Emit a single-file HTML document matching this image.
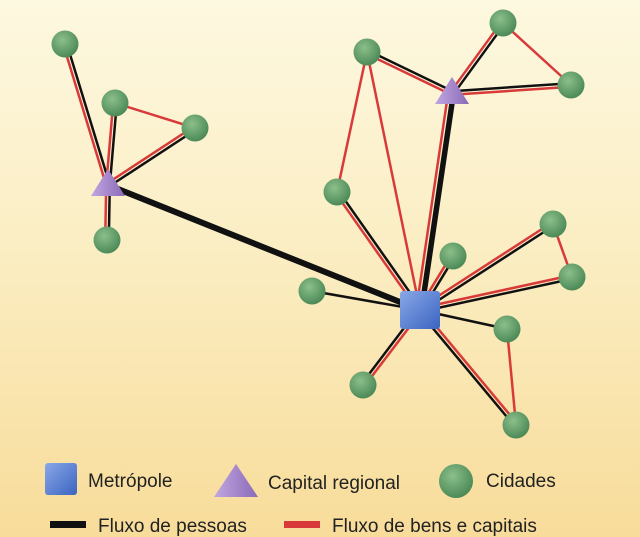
<!DOCTYPE html>
<html><head><meta charset="utf-8"><style>
html,body{margin:0;padding:0}
body{width:640px;height:537px;overflow:hidden;background:linear-gradient(180deg,#fdf8e0 0%,#fbeec4 45%,#f8dc9a 100%);font-family:"Liberation Sans",sans-serif}
svg{position:absolute;left:0;top:0}
</style></head><body>
<svg id="s" width="640" height="537" viewBox="0 0 640 537">
<defs>
<radialGradient id="g" cx="40%" cy="35%" r="65%"><stop offset="0" stop-color="#8cbf8a"/><stop offset="1" stop-color="#4c8a58"/></radialGradient>
<linearGradient id="b" x1="0" y1="0" x2="1" y2="1"><stop offset="0" stop-color="#8aa8e8"/><stop offset="1" stop-color="#3a64c0"/></linearGradient>
<linearGradient id="t" x1="0" y1="0" x2="1" y2="0"><stop offset="0" stop-color="#c2a6e0"/><stop offset="1" stop-color="#8a6ab8"/></linearGradient>
</defs>
<g id="lines"></g>
<g id="nodes"></g>
<g font-size="19" fill="#222">
<rect x="45" y="463" width="32" height="32" rx="3" fill="url(#b)"/>
<text x="88" y="487">Metrópole</text>
<polygon points="236,464 214,497 258,497" fill="url(#t)"/>
<text x="268" y="489">Capital regional</text>
<circle cx="456" cy="481" r="17" fill="url(#g)"/>
<text x="486" y="487">Cidades</text>
<rect x="50" y="521" width="36" height="7" fill="#111"/>
<text x="98" y="532">Fluxo de pessoas</text>
<rect x="284" y="521" width="36" height="7" fill="#d83a3a"/>
<text x="332" y="532">Fluxo de bens e capitais</text>
</g>
</svg>
<script>
var N={C1:[65,44],C2:[115,103],C3:[195,128],T1:[108,185],C4:[107,240],C5:[367,52],C6:[503,23],C7:[571,85],T2:[452,93],C8:[337,192],C9:[453,256],C10:[553,224],C11:[572,277],M:[420,310],C12:[312,291],C13:[507,329],C14:[363,385],C15:[516,425]};
var E=[["C1","T1","d"],["C2","T1","d"],["C2","C3","r"],["C3","T1","d"],["T1","C4","d"],["T1","M","k"],["C5","T2","d"],["C6","T2","d"],["C6","C7","r"],["T2","C7","d"],["T2","M","kr"],["C5","C8","r"],["C5","M","r"],["C8","M","d"],["C9","M","d"],["C10","M","d"],["C10","C11","r"],["C11","M","d"],["C12","M","b"],["C13","M","b"],["C13","C15","r"],["C14","M","d"],["C15","M","d"]];
var L=document.getElementById('lines'),ns="http://www.w3.org/2000/svg";
function ln(a,b,o,c,w){var dx=b[0]-a[0],dy=b[1]-a[1],l=Math.hypot(dx,dy),px=-dy/l*o,py=dx/l*o;var e=document.createElementNS(ns,'line');e.setAttribute('x1',a[0]+px);e.setAttribute('y1',a[1]+py);e.setAttribute('x2',b[0]+px);e.setAttribute('y2',b[1]+py);e.setAttribute('stroke',c);e.setAttribute('stroke-width',w);L.appendChild(e);}
E.forEach(function(e){var a=N[e[0]],b=N[e[1]];
if(e[2]=="d"){ln(a,b,-1.8,"#111",2.5);ln(a,b,1.8,"#d83a3a",2.5);}
else if(e[2]=="r"){ln(a,b,0,"#d83a3a",2.5);}
else if(e[2]=="b"){ln(a,b,0,"#111",2.5);}
else if(e[2]=="k"){ln(a,b,0,"#111",6);}
else {ln(a,b,-1.5,"#111",5.5);ln(a,b,3.8,"#d83a3a",2.5);}
});
var G=document.getElementById('nodes');
for(var k in N){var p=N[k];
if(k[0]=="C"){var c=document.createElementNS(ns,'circle');c.setAttribute('cx',p[0]);c.setAttribute('cy',p[1]);c.setAttribute('r',13.5);c.setAttribute('fill','url(#g)');G.appendChild(c);}
else if(k[0]=="T"){var t=document.createElementNS(ns,'polygon');t.setAttribute('points',(p[0])+','+(p[1]-16)+' '+(p[0]-17)+','+(p[1]+11)+' '+(p[0]+17)+','+(p[1]+11));t.setAttribute('fill','url(#t)');G.appendChild(t);}
else {var r=document.createElementNS(ns,'rect');r.setAttribute('x',p[0]-20);r.setAttribute('y',p[1]-19);r.setAttribute('width',40);r.setAttribute('height',38);r.setAttribute('rx',3);r.setAttribute('fill','url(#b)');G.appendChild(r);}}
</script>
</body></html>
